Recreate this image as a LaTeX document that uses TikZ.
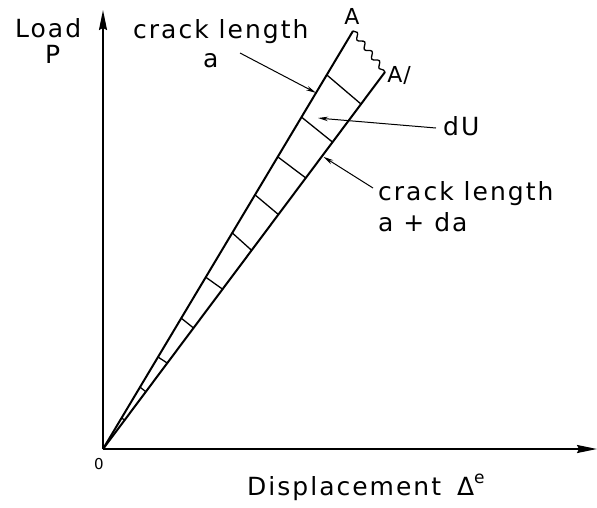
\documentclass[tikz,border=0pt]{standalone}
\usepackage{fontspec}
\setmainfont[LetterSpace=8]{DejaVu Sans}
\usetikzlibrary{arrows.meta,calc,decorations.pathmorphing}
\begin{document}
\begin{tikzpicture}[x=1pt,y=-1pt,
  axis/.style={line width=1.8pt,-{Stealth[length=20pt,width=8pt,inset=2pt]}},
  ray/.style={line width=2pt},
  hatch/.style={line width=1.3pt},
  leader/.style={line width=1pt,-{Stealth[length=10pt,width=4.5pt]}},
  lbl/.style={anchor=base west,inner sep=0pt,font=\fontsize{25}{25}\selectfont},
  pt/.style={anchor=center,inner sep=0pt,font=\fontsize{22}{22}\selectfont}]
\useasboundingbox (0,0) rectangle (597,507);
\coordinate (O) at (103,449);
\coordinate (A) at (353,31);
\coordinate (Ap) at (385,72);
\coordinate (Ytop) at (103,10);
\coordinate (Xend) at (597,449);
% axes
\draw[axis] (O) -- (Ytop);
\draw[axis] (O) -- (Xend);
% rays
\draw[ray] (O) -- (A);
\draw[ray] (O) -- (Ap);
\draw[line width=1.3pt,decorate,decoration={snake,amplitude=2.5pt,segment length=12pt}] (A) -- (Ap);
% hatches
\foreach \s/\e in {0.895/0.915,0.794/0.814,0.699/0.719,0.608/0.622,0.517/0.527,0.411/0.424,0.313/0.321,0.22/0.228,0.148/0.152,0.074/0.077}{
  \draw[hatch] ($(O)!\s!(A)$) -- ($(O)!\e!(Ap)$);
}
% labels
\node[pt] (lA) at (352,16) {A};
\node[pt] (lAp) at (399,75) {A\kern1pt/};
\node[lbl] (load) at (15,37) {Load};
\node[lbl] (P) at (45,63) {P};
\node[lbl] (cla) at (133,38) {crack length};
\node[lbl] (a) at (203,67) {a};
\node[lbl] (dU) at (443,135) {dU};
\node[lbl] (clb) at (378,200) {crack length};
\node[lbl] (ada) at (378,231) {a + da};
\node[lbl] (disp) at (247,495) {Displacement\hspace{16pt}Δ\raisebox{0.45em}{\fontsize{17}{17}\selectfont e}};
\node[anchor=center,inner sep=0pt,font=\fontsize{15}{15}\selectfont] (zero) at (99,464) {0};
% leaders
\coordinate (la) at (240,53);
\coordinate (ldu) at (436,128);
\coordinate (lb) at (373,188);
\draw[leader] (la) -- ($(O)!0.852!(A)$);
\draw[leader] (ldu) .. controls (380,124) .. (318,118);
\draw[leader] (lb) -- ($(O)!0.775!(Ap)+(2,0)$);
\end{tikzpicture}
\end{document}
